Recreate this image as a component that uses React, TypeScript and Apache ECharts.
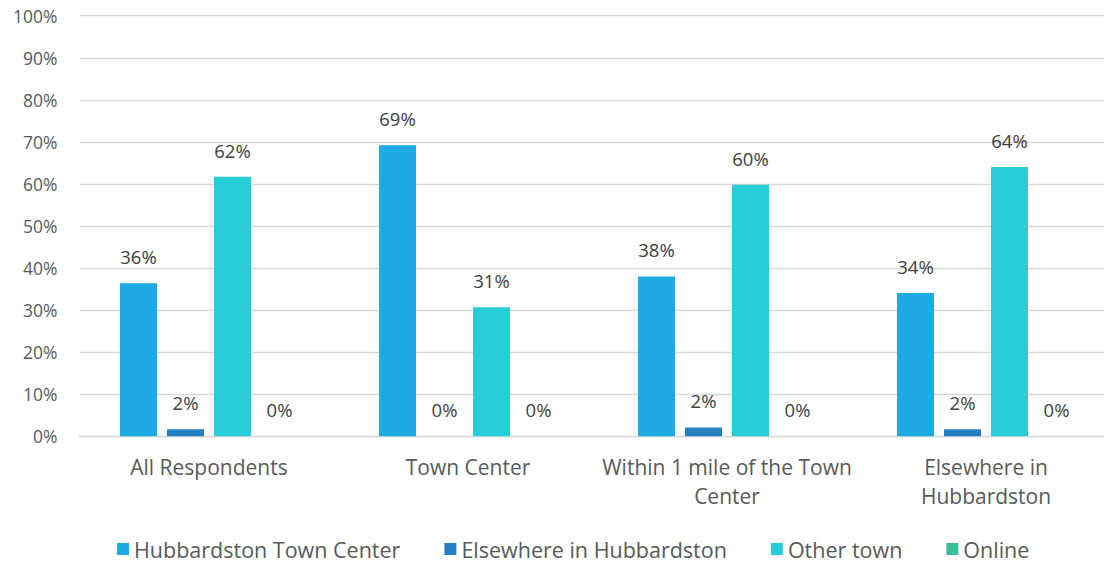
import React, { useEffect, useRef } from "react";
import * as echarts from "echarts";

const categories = [
  "All Respondents",
  "Town Center",
  "Within 1 mile of the Town\nCenter",
  "Elsewhere in\nHubbardston",
];
const seriesNames = [
  "Hubbardston Town Center",
  "Elsewhere in Hubbardston",
  "Other town",
  "Online",
];
const hubbardstonTownCenter = [36.4, 69.2, 38.0, 34.1];
const elsewhereInHubbardston = [1.7, 0, 2.1, 1.7];
const otherTown = [61.7, 30.7, 59.8, 64.0];
const online = [0, 0, 0, 0];
const colors = ["#1EAAE2", "#2580C3", "#29CDD7", "#3DBD9A"];
const yTicks = [0, 10, 20, 30, 40, 50, 60, 70, 80, 90, 100];

const FONT = "'Open Sans', Lato, sans-serif";

export default function App() {
  const ref = useRef<HTMLDivElement>(null);
  useEffect(() => {
    if (!ref.current) return;
    const chart = echarts.init(ref.current, undefined, { renderer: "svg" });
    const values = [hubbardstonTownCenter, elsewhereInHubbardston, otherTown, online];
    chart.setOption({
      animation: false,
      textStyle: { fontFamily: FONT },
      color: colors,
      grid: {
        left: 79.5,
        top: 15.7,
        width: 1036,
        height: 420.6,
        containLabel: false,
        outerBoundsMode: "none",
      },
      legend: {
        data: seriesNames,
        top: 533,
        left: 112,
        itemWidth: 12,
        itemHeight: 12,
        itemGap: 44,
        icon: "rect",
        textStyle: { fontSize: 21.5, color: "#595959", fontFamily: FONT },
      },
      xAxis: {
        type: "category",
        data: categories,
        axisLine: { show: true, lineStyle: { color: "#D9D9D9", width: 1.3 } },
        axisTick: { show: false },
        axisLabel: {
          interval: 0,
          color: "#595959",
          fontSize: 21,
          lineHeight: 29,
          margin: 16,
          fontFamily: FONT,
        },
      },
      yAxis: {
        type: "value",
        min: yTicks[0],
        max: yTicks[yTicks.length - 1],
        interval: 10,
        axisLine: { show: false },
        axisTick: { show: false },
        splitLine: { lineStyle: { color: "#D9D9D9", width: 1.3 } },
        axisLabel: {
          color: "#595959",
          fontSize: 17.5,
          margin: 22,
          fontFamily: FONT,
          formatter: (v: number) => `${v}%`,
        },
      },
      series: seriesNames.map((name, i) => ({
        name,
        type: "bar",
        data: values[i],
        barWidth: 37,
        barGap: "27%",
        itemStyle: { color: colors[i] },
        label: {
          show: true,
          position: "top",
          distance: 17,
          color: "#404040",
          fontSize: 18.5,
          fontFamily: FONT,
          formatter: (p: any) => `${Math.round(p.value)}%`,
        },
      })),
    });
    return () => chart.dispose();
  }, []);
  return (
    <div
      ref={ref}
      style={{ position: "fixed", left: 0, top: 0, width: 1104, height: 567, background: "#fff" }}
    />
  );
}
